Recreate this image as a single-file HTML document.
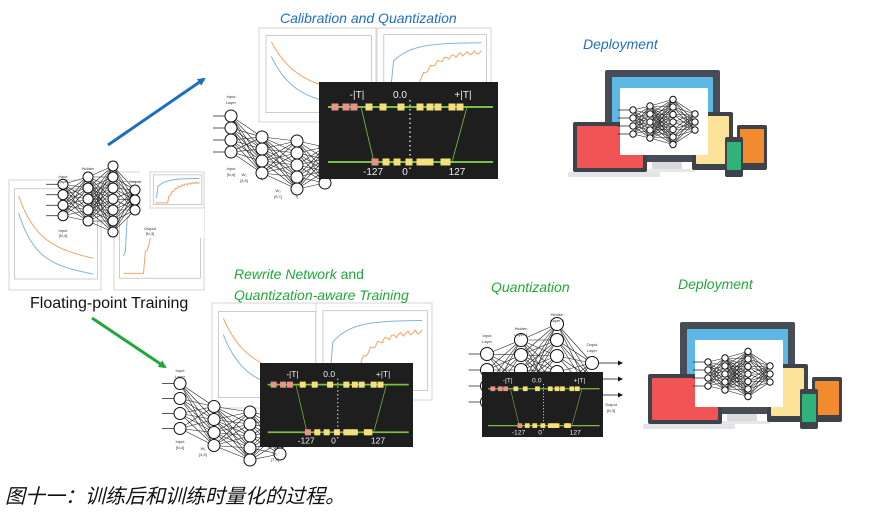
<!DOCTYPE html>
<html><head><meta charset="utf-8"><style>
html,body{margin:0;padding:0;background:#fff;width:874px;height:514px;overflow:hidden}
svg{display:block}
.t{font-family:"Liberation Sans",sans-serif}
</style></head><body>
<svg id="s" width="874" height="514" xmlns="http://www.w3.org/2000/svg">
<defs>
<marker id="ab" markerWidth="8" markerHeight="8" refX="6" refY="4" orient="auto" markerUnits="userSpaceOnUse"><path d="M0,0 L8,4 L0,8 z" fill="#1f6fc0"/></marker>
<marker id="ag" markerWidth="8" markerHeight="8" refX="6" refY="4" orient="auto" markerUnits="userSpaceOnUse"><path d="M0,0 L8,4 L0,8 z" fill="#22a83a"/></marker>
</defs>
<g id="root"></g>
<text x="280" y="23" class="t" font-size="14" font-style="italic" fill="#1f6fc0">Calibration and Quantization</text>
<text x="583" y="49" class="t" font-size="14" font-style="italic" fill="#1f6fc0">Deployment</text>
<text x="234" y="279" class="t" font-size="14" fill="#22a83a"><tspan font-style="italic">Rewrite Network</tspan> and</text>
<text x="234" y="300" class="t" font-size="14" font-style="italic" fill="#22a83a">Quantization-aware Training</text>
<text x="491" y="292" class="t" font-size="14" font-style="italic" fill="#22a83a">Quantization</text>
<text x="678" y="289" class="t" font-size="14" font-style="italic" fill="#22a83a">Deployment</text>
<text x="30" y="308" class="t" font-size="16" fill="#111">Floating-point Training</text>
<line x1="108" y1="145" x2="204" y2="79" stroke="#1f6fc0" stroke-width="3" marker-end="url(#ab)"/>
<line x1="92" y1="318" x2="165" y2="367" stroke="#22a83a" stroke-width="3" marker-end="url(#ag)"/>
<text x="5" y="503" font-family="'Liberation Sans','Noto Sans CJK SC',sans-serif" font-size="20" font-style="italic" fill="#111">图十一：训练后和训练时量化的过程。</text>
</svg>
<script>
let H='';
function chart(x,y,w,h,type){
  let s=`<rect x="${x}" y="${y}" width="${w}" height="${h}" fill="#fff" stroke="#ccc" stroke-width="0.8"/>`;
  const px=x+w*0.06,pw=w*0.9,py=y+h*0.08,ph=h*0.82;
  s+=`<rect x="${px}" y="${py}" width="${pw}" height="${ph}" fill="none" stroke="#aaa" stroke-width="0.6"/>`;
  let a='',b='';
  for(let i=0;i<=40;i++){const t=i/40;const X=px+pw*(0.05+0.9*t);
    if(type=='loss'){a+=(i?'L':'M')+X+','+(py+ph*(0.08+0.55*(1-Math.exp(-t*4))+0.15*t));b+=(i?'L':'M')+X+','+(py+ph*(0.27+0.55*(1-Math.exp(-t*4.5))+0.13*t));}
    else{b+=(i?'L':'M')+X+','+(py+ph*(0.12+0.35*Math.exp(-t*5)+(i<2?0.3:0)));a+=(i?'L':'M')+X+','+(py+ph*(t<0.3?0.95:0.25+0.5*Math.exp(-(t-0.3)*5)+0.03*Math.sin(i*2)));}
  }
  s+=`<path d="${a}" fill="none" stroke="#f4a36a" stroke-width="1"/><path d="${b}" fill="none" stroke="#7fb6dd" stroke-width="1"/>`;
  return s;
}
function net(layers,r){
  let s='';
  for(let l=0;l<layers.length-1;l++){const A=layers[l],B=layers[l+1];
    for(const ya of A.ys)for(const yb of B.ys)s+=`<line x1="${A.x}" y1="${ya}" x2="${B.x}" y2="${yb}" stroke="#222" stroke-width="0.6"/>`;}
  for(const L of layers)for(const y of L.ys)s+=`<circle cx="${L.x}" cy="${y}" r="${r}" fill="#fff" stroke="#111" stroke-width="1"/>`;
  const I=layers[0];for(const y of I.ys)s+=`<line x1="${I.x-r-12}" y1="${y}" x2="${I.x-r}" y2="${y}" stroke="#111" stroke-width="0.7"/>`;
  return s;
}
function ys(c,n,sp){const a=[];for(let i=0;i<n;i++)a.push(c+(i-(n-1)/2)*sp);return a;}
function lbl(x,y,t,fs){return `<text x="${x}" y="${y}" font-family="Liberation Sans,sans-serif" font-size="${fs||4}" fill="#333" text-anchor="middle">${t}</text>`;}
function qbox(x,y,w,h){
  let s=`<svg x="${x}" y="${y}" width="${w}" height="${h}" viewBox="0 0 179 97" preserveAspectRatio="none"><rect width="179" height="97" fill="#1e1e1e"/>`;
  s+=`<line x1="9" y1="25" x2="174" y2="25" stroke="#7ac143" stroke-width="2"/><line x1="9" y1="80" x2="174" y2="80" stroke="#7ac143" stroke-width="2"/>`;
  s+=`<line x1="42" y1="25" x2="55" y2="80" stroke="#7ac143" stroke-width="0.8"/><line x1="148" y1="25" x2="133" y2="80" stroke="#7ac143" stroke-width="0.8"/>`;
  s+=`<line x1="91" y1="18" x2="91" y2="88" stroke="#fff" stroke-width="1.2" stroke-dasharray="1.5,3"/>`;
  const T=[[16,1],[27,1],[35,1],[50,0],[64,0],[82,0],[101,0],[111,0],[119,0],[133,0],[141,0]];
  const B=[[56,1],[67,0],[78,0],[90,0],[101,0],[106,0],[111,0],[125,0],[128,0]];
  for(const [xx,r] of T)s+=`<rect x="${xx-3.5}" y="21.5" width="7" height="7" fill="${r?'#e8928a':'#f5e07a'}"/>`;
  for(const [xx,r] of B)s+=`<rect x="${xx-3.5}" y="76.5" width="7" height="7" fill="${r?'#e8928a':'#f5e07a'}"/>`;
  const ts='font-family="Liberation Sans,sans-serif" font-size="10" fill="#eee" text-anchor="middle"';
  s+=`<text x="38" y="16" ${ts}>-|T|</text><text x="81" y="16" ${ts}>0.0</text><text x="144" y="16" ${ts}>+|T|</text>`;
  s+=`<text x="54" y="93" ${ts}>-127</text><text x="86" y="93" ${ts}>0</text><text x="138" y="93" ${ts}>127</text></svg>`;
  return s;
}
function devices(ox,oy){
  const g=(x,y,w,h,f,rx)=>`<rect x="${ox+x}" y="${oy+y}" width="${w}" height="${h}" fill="${f}" rx="${rx||1}"/>`;
  let s='';
  s+=g(65,10,115,92,'#474c57',2)+g(72,17,101,78,'#5db8e6')+g(112,102,30,8,'#d8dadd')+g(100,109,55,3,'#e6e7e9');
  s+=g(33,62,74,50,'#3d424b',2)+g(37,66,66,42,'#f05454')+g(28,112,92,5,'#e3e4e6');
  s+=g(152,52,41,58,'#3d424b',2)+g(156,56,33,48,'#fde29a');
  s+=g(197,65,30,45,'#3d424b',2)+g(200,69,24,34,'#f28a30');
  s+=g(185,77,18,40,'#3d424b',2)+g(187,82,14,28,'#2fb37a');
  s+=g(80,28,88,67,'#fff',0);
  s+=`<g>${net([{x:ox+93,ys:ys(oy+62,4,8)},{x:ox+110,ys:ys(oy+62,5,8)},{x:ox+133,ys:ys(oy+62,7,7.5)},{x:ox+155,ys:ys(oy+62,3,8)}],3.2)}</g>`;
  return s;
}
H+=chart(9,180,92,110,'loss');
H+=chart(114,172,90,118,'acc');
H+=`<rect x="140" y="170" width="64" height="68" fill="#fff"/>`;
H+=chart(150,172,54,36,'acc');
H+=net([{x:63,ys:ys(200,4,10.5)},{x:88,ys:ys(199,5,11)},{x:113,ys:ys(199,7,11)},{x:135,ys:ys(200,3,10)}],5);
H+=lbl(63,178,'Input')+lbl(63,183,'Layer')+lbl(63,232,'Input')+lbl(63,237,'[N,4]')+lbl(88,170,'Hidden')+lbl(135,183,'Output')+lbl(150,230,'Output')+lbl(150,235,'[N,3]');
H+=chart(259,28,117,94,'loss');
H+=chart(377,28,114,82,'acc');
H+=net([{x:231,ys:ys(134,4,12)},{x:262,ys:ys(155,4,12)},{x:297,ys:ys(165,5,12)},{x:325,ys:ys(165,4,12)}],6);
H+=lbl(231,98,'Input')+lbl(231,104,'Layer')+lbl(231,170,'Input')+lbl(231,176,'[N,4]')+lbl(244,176,'W₁')+lbl(244,182,'[4,5]')+lbl(278,192,'W₂')+lbl(278,198,'[5,7]')+lbl(262,180,'f₁')+lbl(297,198,'f₂');
H+=qbox(319,82,179,97);
H+=chart(212,303,108,105,'loss');
H+=chart(316,303,116,97,'acc');
H+=net([{x:180,ys:ys(406,4,15)},{x:214,ys:ys(426,4,13)},{x:250,ys:ys(436,5,12)},{x:280,ys:ys(436,4,12)}],6);
H+=lbl(180,372,'Input')+lbl(180,378,'Layer')+lbl(180,443,'Input')+lbl(180,449,'[N,4]')+lbl(203,450,'W₁')+lbl(203,456,'[4,5]')+lbl(275,455,'W₂')+lbl(275,461,'[7,3]');
H+=qbox(260,363,153,84);
H+=net([{x:487,ys:ys(378,4,16)},{x:521,ys:ys(370,5,15)},{x:557,ys:ys(364,6,16)},{x:592,ys:ys(379,3,16)}],6.5);
for(const y of ys(379,3,16))H+=`<line x1="598" y1="${y}" x2="618" y2="${y}" stroke="#111" stroke-width="0.7"/><path d="M618,${y-2.5} L623,${y} L618,${y+2.5}z" fill="#111"/>`;
H+=lbl(487,337,'Input')+lbl(487,343,'Layer')+lbl(521,330,'Hidden')+lbl(521,336,'Layer 1')+lbl(557,316,'Hidden')+lbl(557,322,'Layer 2')+lbl(592,346,'Ouput')+lbl(592,352,'Layer')+lbl(487,412,'Input')+lbl(487,418,'[N,4]')+lbl(611,406,'Output')+lbl(611,412,'[N,3]');
H+=qbox(482,372,121,65);
H+=devices(540,60);
H+=devices(615,312);
document.getElementById('root').innerHTML=H;
</script>
</body></html>
